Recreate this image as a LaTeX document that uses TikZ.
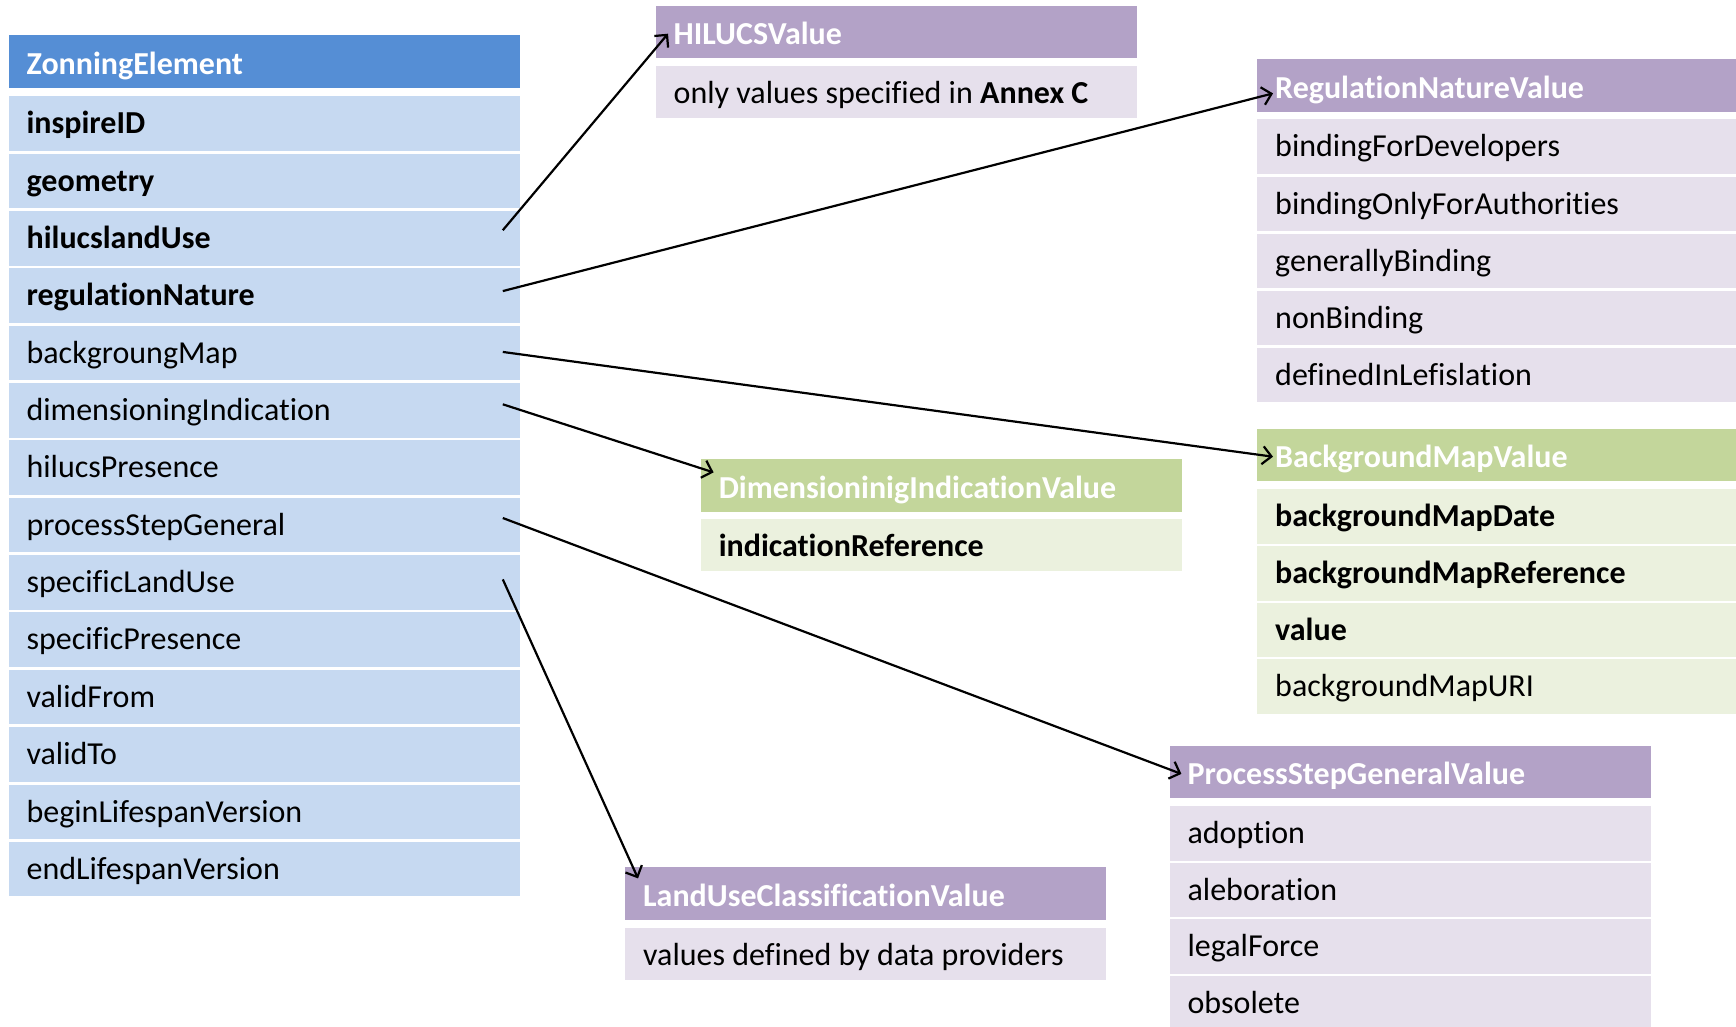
\documentclass[tikz,border=0pt]{standalone}
\usepackage{fontspec}
\setmainfont{Carlito}[Ligatures={NoCommon,NoContextual,NoRare}]
\usetikzlibrary{arrows.meta}
\definecolor{zhead}{HTML}{558ED5}
\definecolor{zrow}{HTML}{C6D9F1}
\definecolor{phead}{HTML}{B3A2C7}
\definecolor{prow}{HTML}{E6E0EC}
\definecolor{ghead}{HTML}{C3D69B}
\definecolor{grow}{HTML}{EBF1DE}
\begin{document}
\begin{tikzpicture}[x=1pt,y=-1pt,
  cell/.style={anchor=north west, inner xsep=18pt, inner ysep=0pt, align=left,
    font=\fontsize{32}{38}\selectfont, text height=37.5pt, text depth=17.1pt,
    execute at begin node={\spaceskip=0pt\xspaceskip=0pt}},
  hcell/.style={cell, font=\fontsize{32}{38}\selectfont\bfseries, text=white, text height=39pt, text depth=13.4pt},
  lw/.style={text width=475pt},
  mw/.style={text width=445pt},
  rw/.style={text width=443pt},
  zh/.style={hcell, lw, fill=zhead},
  zr/.style={cell, lw, fill=zrow},
  ph/.style={hcell, fill=phead},
  pr/.style={cell, fill=prow},
  gh/.style={hcell, fill=ghead},
  gr/.style={cell, fill=grow},
  short/.style={text depth=14.5pt},
  link/.style={line width=2.2pt, -{Straight Barb[length=9pt,width=18pt,line width=2.2pt]}}
]
\useasboundingbox (0,0) rectangle (1736,1027);

% ZonningElement
\node[zh] (ze) at (8.4,35) {ZonningElement};
\node[zr] (z1) at (8.4,96.00) {\bfseries inspireID};
\node[zr] (z2) at (8.4,153.36) {\bfseries geometry};
\node[zr] (z3) at (8.4,210.72) {\bfseries hilucslandUse};
\node[zr] (z4) at (8.4,268.08) {\bfseries regulationNature};
\node[zr] (z5) at (8.4,325.44) {backgroungMap};
\node[zr] (z6) at (8.4,382.80) {dimensioningIndication};
\node[zr] (z7) at (8.4,440.16) {hilucsPresence};
\node[zr] (z8) at (8.4,497.52) {processStepGeneral};
\node[zr] (z9) at (8.4,554.88) {specificLandUse};
\node[zr] (z10) at (8.4,612.24) {specificPresence};
\node[zr] (z11) at (8.4,669.60) {validFrom};
\node[zr] (z12) at (8.4,726.96) {validTo};
\node[zr] (z13) at (8.4,784.32) {beginLifespanVersion};
\node[zr] (z14) at (8.4,841.68) {endLifespanVersion};

% HILUCSValue
\node[ph, mw] (hv) at (655.5,5.7) {HILUCSValue};
\node[pr, mw, short] (hv1) at (655.5,66) {only values specified in \textbf{Annex C}};

% RegulationNatureValue
\node[ph, rw] (rn) at (1257,59) {RegulationNatureValue};
\node[pr, rw] (rn1) at (1257,119.3) {bindingForDevelopers};
\node[pr, rw] (rn2) at (1257,176.35) {bindingOnlyForAuthorities};
\node[pr, rw] (rn3) at (1257,233.4) {generallyBinding};
\node[pr, rw] (rn4) at (1257,290.45) {nonBinding};
\node[pr, rw] (rn5) at (1257,347.5) {definedInLefislation};

% BackgroundMapValue
\node[gh, rw] (bm) at (1257,428.3) {BackgroundMapValue};
\node[gr, rw] (bm1) at (1257,489) {\bfseries backgroundMapDate};
\node[gr, rw] (bm2) at (1257,545.7) {\bfseries backgroundMapReference};
\node[gr, rw] (bm3) at (1257,602.4) {\bfseries value};
\node[gr, rw] (bm4) at (1257,659.1) {backgroundMapURI};

% DimensioninigIndicationValue
\node[gh, mw] (di) at (700.6,459) {DimensioninigIndicationValue};
\node[gr, mw, short] (di1) at (700.6,519) {\bfseries indicationReference};

% ProcessStepGeneralValue
\node[ph, mw] (ps) at (1169.4,745.5) {ProcessStepGeneralValue};
\node[pr, mw] (ps1) at (1169.4,805.7) {adoption};
\node[pr, mw] (ps2) at (1169.4,862.4) {aleboration};
\node[pr, mw] (ps3) at (1169.4,919.1) {legalForce};
\node[pr, mw] (ps4) at (1169.4,975.8) {obsolete};

% LandUseClassificationValue
\node[ph, mw] (lu) at (625,867) {LandUseClassificationValue};
\node[pr, mw, short] (lu1) at (625,927.3) {values defined by data providers};

% connectors
\draw[link] ([xshift=-17pt,yshift=8pt]z3.east) -- ([xshift=12.5pt,yshift=-1.6pt]hv.west);
\draw[link] ([xshift=-17pt,yshift=4.5pt]z4.east) -- ([xshift=16pt,yshift=-8pt]rn.west);
\draw[link] ([xshift=-17pt,yshift=1pt]z5.east) -- ([xshift=16pt,yshift=-2pt]bm.west);
\draw[link] ([xshift=-17pt,yshift=6pt]z6.east) -- ([xshift=13pt,yshift=13pt]di.west);
\draw[link] ([xshift=-17pt,yshift=7pt]z8.east) -- ([xshift=12pt,yshift=-2pt]ps.west);
\draw[link] ([xshift=-17pt,yshift=3pt]z9.east) -- ([xshift=13pt,yshift=15pt]lu.west);
\end{tikzpicture}
\end{document}
